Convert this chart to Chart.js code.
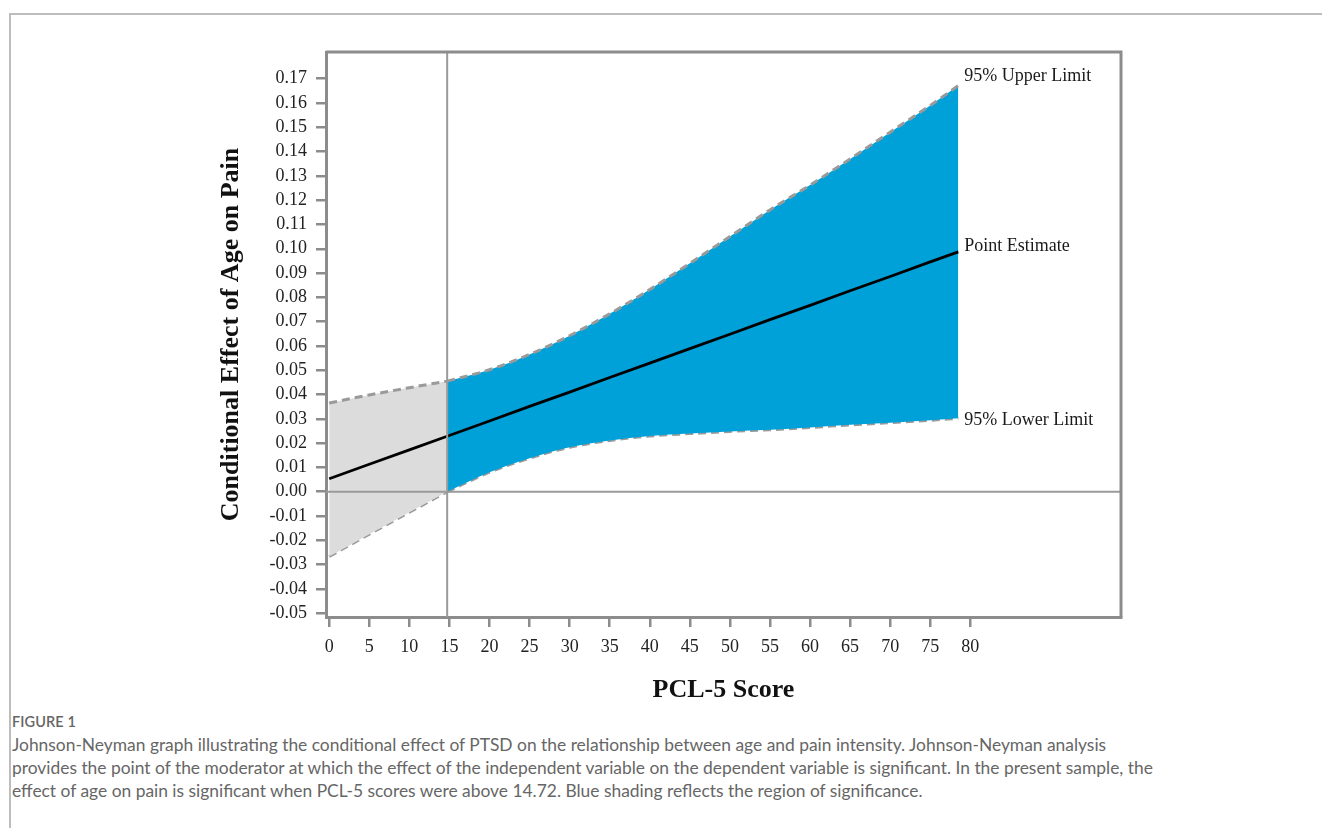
<!DOCTYPE html>
<html lang="en">
<head>
<meta charset="UTF-8">
<title>Johnson-Neyman graph</title>
<style>
  body { margin: 0; background: #fff; width: 1322px; height: 828px; overflow: hidden; position: relative; }
  .frame { position: absolute; left: 9px; top: 13px; right: 0; bottom: 0; border-top: 2px solid #bdbdbd; border-left: 2px solid #bdbdbd; }
  #chart { position: absolute; left: 0; top: 0; }
  .caption { position: absolute; left: 12px; top: 713px; width: 1250px; font-family: Lato, "Noto Sans", sans-serif; color: #666; }
  .caption .fig { font-size: 14.5px; font-weight: 600; letter-spacing: 0.1px; margin-bottom: 3px; }
  .caption .txt { font-size: 17.4px; line-height: 23px; }
</style>
</head>
<body>
<div class="frame"></div>
<canvas id="chart" width="1322" height="710"></canvas>
<div class="caption">
  <div class="fig">FIGURE 1</div>
  <div class="txt">Johnson-Neyman graph illustrating the conditional effect of PTSD on the relationship between age and pain intensity. Johnson-Neyman analysis<br>provides the point of the moderator at which the effect of the independent variable on the dependent variable is significant. In the present sample, the<br>effect of age on pain is significant when PCL-5 scores were above 14.72. Blue shading reflects the region of significance.</div>
</div>

<script src="https://cdn.jsdelivr.net/npm/chart.js"></script>
<script>
  // values
  const pclScores = [0, 5, 10, 14.72, 20, 25, 30, 35, 40, 45, 50, 55, 60, 65, 70, 75, 78.5];
  const pointEstimate = [0.0053, 0.0113, 0.0172, 0.0228, 0.0291, 0.0351, 0.0410, 0.0470, 0.0529, 0.0589, 0.0648, 0.0708, 0.0767, 0.0827, 0.0886, 0.0946, 0.0987];
  const lowerLimit = [-0.0267, -0.0175, -0.0085, 0.0000, 0.0080, 0.0138, 0.0183, 0.0211, 0.0229, 0.0239, 0.0248, 0.0255, 0.0264, 0.0275, 0.0284, 0.0294, 0.0302];
  const upperLimit = [0.0365, 0.0398, 0.0428, 0.0455, 0.0502, 0.0565, 0.0642, 0.0732, 0.0832, 0.0940, 0.1050, 0.1160, 0.1262, 0.1370, 0.1480, 0.1590, 0.1672];
  const jnPoint = 14.72;
  const xTickValues = [0, 5, 10, 15, 20, 25, 30, 35, 40, 45, 50, 55, 60, 65, 70, 75, 80];
  const yTickValues = [-0.05, -0.04, -0.03, -0.02, -0.01, 0.00, 0.01, 0.02, 0.03, 0.04, 0.05, 0.06, 0.07, 0.08, 0.09, 0.10, 0.11, 0.12, 0.13, 0.14, 0.15, 0.16, 0.17];
  const endLabels = ['95% Upper Limit', 'Point Estimate', '95% Lower Limit'];

  const axisGray = '#8c8c8c';
  const serif = "'Liberation Serif', 'Times New Roman', serif";

  const pts = (ys, keep) => pclScores.map((x, i) => ({ x: x, y: ys[i] })).filter(p => keep(p.x));
  const nonSig = x => x <= jnPoint;
  const sig = x => x >= jnPoint;

  const dashed = {
    borderColor: '#9a9a9a', borderWidth: 3, borderDash: [8, 5],
    pointRadius: 0, cubicInterpolationMode: 'monotone', order: 1
  };

  // frame, reference lines and end labels
  const extras = {
    id: 'extras',
    afterDatasetsDraw(chart) {
      const { ctx, chartArea: a, scales: { x, y } } = chart;
      ctx.save();
      ctx.strokeStyle = '#9a9a9a';
      ctx.lineWidth = 2;
      const y0 = y.getPixelForValue(0);
      ctx.beginPath();
      ctx.moveTo(a.left, y0); ctx.lineTo(a.right, y0);
      const xj = x.getPixelForValue(jnPoint);
      ctx.moveTo(xj, a.top); ctx.lineTo(xj, a.bottom);
      ctx.stroke();

      ctx.strokeStyle = axisGray;
      ctx.lineWidth = 3;
      ctx.beginPath();
      ctx.moveTo(a.left, a.top); ctx.lineTo(a.right, a.top); ctx.lineTo(a.right, a.bottom);
      ctx.stroke();

      const n = pclScores.length - 1;
      const xe = x.getPixelForValue(pclScores[n]) + 6;
      ctx.fillStyle = '#1a1a1a';
      ctx.font = '18px ' + serif;
      ctx.textBaseline = 'middle';
      ctx.fillText(endLabels[0], xe, y.getPixelForValue(upperLimit[n]) - 9);
      ctx.fillText(endLabels[1], xe, y.getPixelForValue(pointEstimate[n]) - 6);
      ctx.fillText(endLabels[2], xe, y.getPixelForValue(lowerLimit[n]) + 2);
      ctx.restore();
    }
  };

  new Chart(document.getElementById('chart'), {
    type: 'line',
    data: {
      datasets: [
        Object.assign({ data: pts(upperLimit, nonSig), fill: '+1', backgroundColor: '#dcdcdc' }, dashed),
        Object.assign({ data: pts(lowerLimit, nonSig), fill: false }, dashed),
        Object.assign({ data: pts(upperLimit, sig), fill: '+1', backgroundColor: '#00a0d8' }, dashed),
        Object.assign({ data: pts(lowerLimit, sig), fill: false }, dashed),
        {
          data: pclScores.map((x, i) => ({ x: x, y: pointEstimate[i] })),
          borderColor: '#000', borderWidth: 2.8, pointRadius: 0, fill: false, order: 0
        }
      ]
    },
    options: {
      responsive: false,
      animation: false,
      layout: { padding: { left: 0, top: 52, right: 201, bottom: 0 } },
      plugins: { legend: { display: false }, tooltip: { enabled: false } },
      scales: {
        x: {
          type: 'linear',
          min: -0.4,
          max: 98.8,
          afterBuildTicks: s => { s.ticks = xTickValues.map(v => ({ value: v })); },
          afterFit: s => { s.height = 93; },
          border: { display: true, color: axisGray, width: 3 },
          grid: { drawOnChartArea: false, drawTicks: true, tickLength: 10, color: axisGray, lineWidth: 2.5 },
          ticks: { color: '#222', font: { family: serif, size: 18 }, padding: 9, maxRotation: 0, autoSkip: false },
          title: { display: true, text: 'PCL-5 Score', color: '#111', font: { family: serif, size: 26, weight: 'bold' }, padding: { top: 6 } }
        },
        y: {
          min: -0.0516,
          max: 0.181,
          afterBuildTicks: s => { s.ticks = yTickValues.map(v => ({ value: v })); },
          afterFit: s => { s.width = 326; },
          border: { display: true, color: axisGray, width: 3 },
          grid: { drawOnChartArea: false, drawTicks: true, tickLength: 10, color: axisGray, lineWidth: 2.5 },
          ticks: { color: '#222', font: { family: serif, size: 18 }, padding: 9, autoSkip: false, callback: v => v.toFixed(2) },
          title: { display: true, text: 'Conditional Effect of Age on Pain', color: '#111', font: { family: serif, size: 26, weight: 'bold' }, padding: { top: 216 } }
        }
      }
    },
    plugins: [extras]
  });
</script>
</body>
</html>
